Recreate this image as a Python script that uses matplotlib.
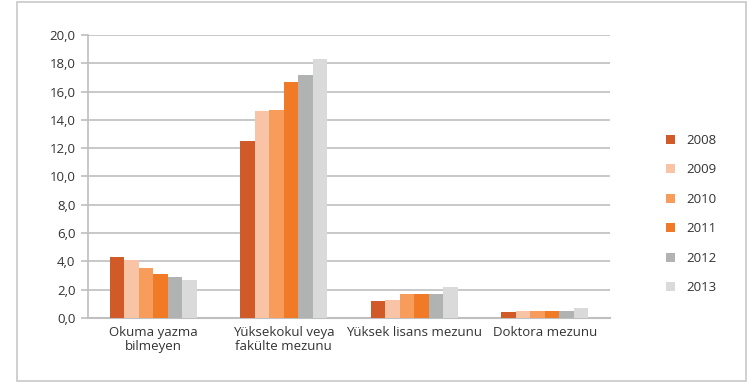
import numpy as np
import matplotlib.pyplot as plt
from matplotlib.patches import Rectangle

plt.rcParams['font.family'] = ['Open Sans', 'DejaVu Sans']

kategoriler = ["Okuma yazma\nbilmeyen", "Yüksekokul veya\nfakülte mezunu",
               "Yüksek lisans mezunu", "Doktora mezunu"]
yillar = ["2008", "2009", "2010", "2011", "2012", "2013"]
renkler = ["#D05A28", "#F9C3A6", "#F89C5C", "#F07A25", "#B0B3B2", "#DADADA"]

v2008 = [4.3, 12.5, 1.2, 0.4]
v2009 = [4.1, 14.6, 1.3, 0.5]
v2010 = [3.5, 14.7, 1.7, 0.5]
v2011 = [3.1, 16.7, 1.7, 0.5]
v2012 = [2.9, 17.2, 1.7, 0.5]
v2013 = [2.7, 18.3, 2.2, 0.7]
degerler = [v2008, v2009, v2010, v2011, v2012, v2013]

fig = plt.figure(figsize=(7.5, 3.82), dpi=100)
ax = fig.add_axes([0.1173, 0.1675, 0.696, 0.741])

# dis cerceve
fig.patches.append(Rectangle((17 / 750, 1 - 381 / 382), (746 - 17) / 750, (381 - 2) / 382,
                             transform=fig.transFigure, fill=False,
                             edgecolor="#C8C8C8", linewidth=1.2))

x = np.arange(len(kategoriler))
genislik = 0.111
for i, (yil, renk, vals) in enumerate(zip(yillar, renkler, degerler)):
    ax.bar(x + (i - 2.5) * genislik, vals, genislik, color=renk, label=yil, zorder=3)

ax.set_xlim(-0.5, 3.5)
ax.set_ylim(0, 20)
ax.set_yticks(np.arange(0, 21, 2))
ax.set_yticklabels(["{:.1f}".format(t).replace(".", ",") for t in np.arange(0, 21, 2)],
                   fontsize=9.5, color="#333333")
ax.set_xticks(x)
ax.set_xticklabels(kategoriler, fontsize=9.5, color="#333333", linespacing=1.1)
ax.tick_params(axis="x", length=0, pad=6)
ax.tick_params(axis="y", length=5, color="#BFBFBF", width=1.2, pad=4)
ax.grid(axis="y", color="#BFBFBF", linewidth=1.2, zorder=0)

for s in ["top", "right"]:
    ax.spines[s].set_visible(False)
ax.spines["left"].set_color("#BFBFBF")
ax.spines["left"].set_linewidth(1.2)
ax.spines["bottom"].set_color("#BFBFBF")
ax.spines["bottom"].set_linewidth(1.5)

ax.legend(loc="center left", bbox_to_anchor=(1.085, 0.367), frameon=False,
          fontsize=9.5, labelspacing=1.25, handlelength=0.7, handleheight=0.7,
          handletextpad=0.8, labelcolor="#333333")

plt.savefig("out.png", dpi=100)
